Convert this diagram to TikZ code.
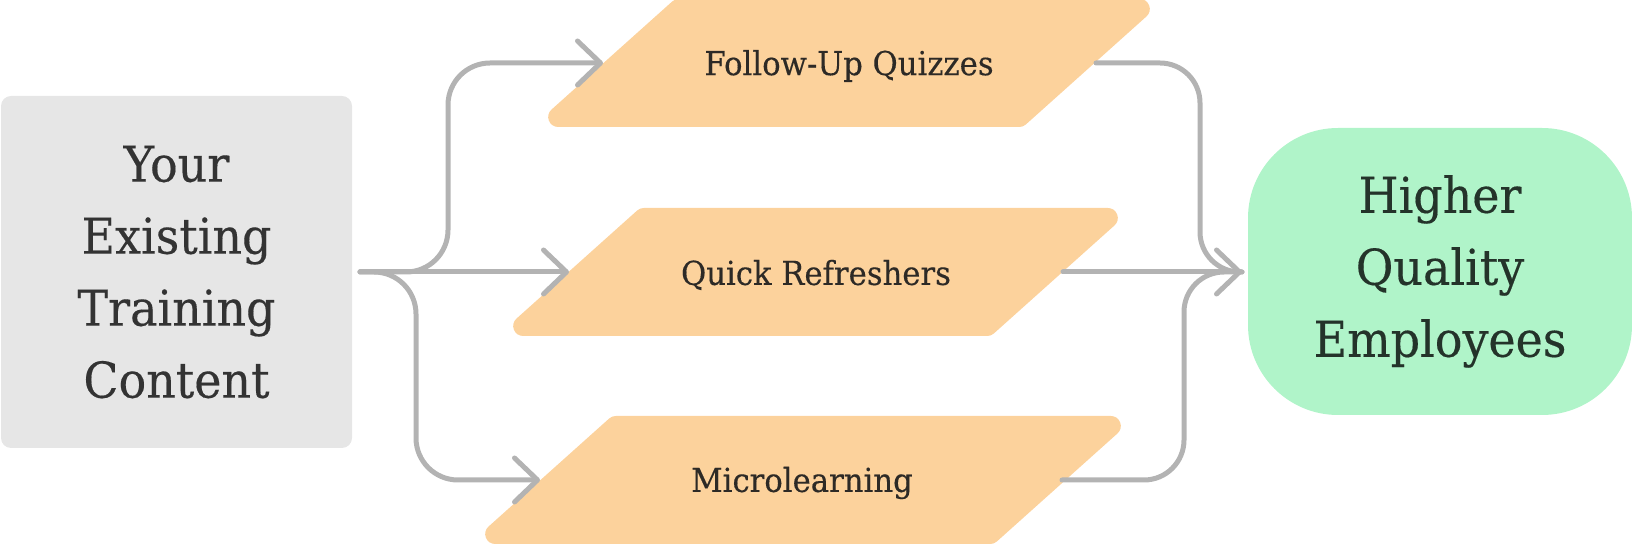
\documentclass[tikz,border=0pt]{standalone}
\usepackage{fontspec}
\setmainfont{DejaVu Serif}[FakeStretch=0.93,FakeBold=0.3]
\usetikzlibrary{arrows.meta}
\definecolor{boxgray}{HTML}{E6E6E6}
\definecolor{procfill}{HTML}{FCD29C}
\definecolor{goalfill}{HTML}{B0F4C9}
\definecolor{linegray}{HTML}{B3B3B3}
\definecolor{txtdark}{HTML}{333333}
\definecolor{txtproc}{HTML}{2D2A26}
\definecolor{txtgreen}{HTML}{24332A}
\begin{document}
\begin{tikzpicture}[x=0.5pt,y=-0.5pt,
  conn/.style={draw=linegray,line width=2.5pt,line cap=round,line join=round,rounded corners=21pt},
  tipconn/.style={conn,-{Straight Barb[length=11.5pt,width=22pt,round]}},
  procshape/.style={fill=procfill,draw=procfill,line width=10pt,line join=round},
  proctext/.style={text=txtproc,font=\fontsize{16.5pt}{19pt}\selectfont,inner sep=0pt},
  bigtext/.style={align=center,font=\fontsize{24.7pt}{36pt}\selectfont,inner sep=0pt},
  srcbox/.style={bigtext,fill=boxgray,text=txtdark,rounded corners=5pt,minimum width=175.5pt,minimum height=176pt},
  goalbox/.style={bigtext,fill=goalfill,text=txtgreen,rounded corners=45pt,minimum width=192pt,minimum height=143.5pt}
]
\useasboundingbox (0,0) rectangle (1632,544);

% source and goal
\node[srcbox] (src) at (176.5,272) {Your\\Existing\\Training\\Content};
\node[goalbox] (goal) at (1440,271.5) {Higher\\Quality\\Employees};

% parallelograms (inset outline drawn with a thick round-joined stroke)
\path[procshape] (678.8,9) -- (1139.8,9) -- (1019.2,117) -- (558.2,117) -- cycle;
\path[procshape] (643.8,218) -- (1107.8,218) -- (987.2,326) -- (523.2,326) -- cycle;
\path[procshape] (615.8,426) -- (1110.8,426) -- (990.2,534) -- (495.2,534) -- cycle;

\node[proctext] (p1) at (849,66) {Follow-Up Quizzes};
\node[proctext] (p2) at (816,275) {Quick Refreshers};
\node[proctext] (p3) at (802,483) {Microlearning};

% connector ends
\coordinate (srcout) at (360,272);
\coordinate (goalin) at (1242,272);
\coordinate (p1in) at (603,63);
\coordinate (p2in) at (569,272);
\coordinate (p3in) at (540,480);
\coordinate (p1out) at (1096,63);
\coordinate (p2out) at (1063,272);
\coordinate (p3out) at (1062,480);

% left connectors
\draw[tipconn] (srcout) -- (448,272) -- (448,63) -- (p1in);
\draw[tipconn] (srcout) -- (p2in);
\draw[tipconn] (srcout) -- (416,272) -- (416,480) -- (p3in);

% right connectors
\draw[conn,rounded corners=20pt] (p1out) -- (1200,63) -- (1200,272) -- (goalin);
\draw[conn,rounded corners=20pt] (p3out) -- (1184,480) -- (1184,272) -- (goalin);
\draw[tipconn] (p2out) -- (goalin);
\end{tikzpicture}
\end{document}
